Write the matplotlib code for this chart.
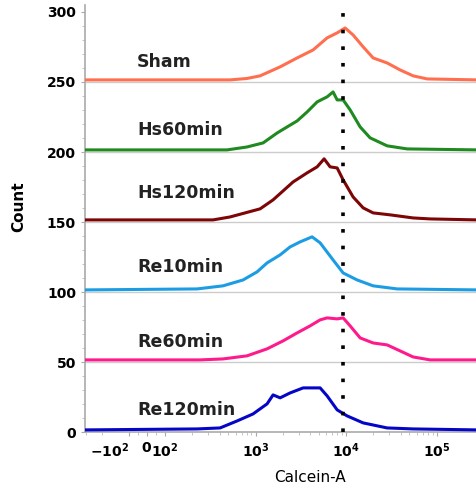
import numpy as np
import matplotlib.pyplot as plt
import matplotlib.transforms as mtransforms

# flow cytometry overlay, Calcein-A histograms stacked with an offset
samples = ['Sham', 'Hs60min', 'Hs120min', 'Re10min', 'Re60min', 'Re120min']
offsets = [250, 200, 150, 100, 50, 0]
colors = ['#ff6f4f', '#1f8a1f', '#7d0505', '#1c9de3', '#ff1a8c', '#0505c8']
label_y = [264, 216, 171, 118, 64, 16]
background = 1.5
marker_x = 9200

sham_x = [-300, 522, 800, 1122, 1866, 2877, 4315, 6166, 7962, 9750, 11940, 15420, 19860, 28380, 39540, 54950, 78520, 280000]
sham_y = [0, 0, 1.0, 2.9, 9.3, 15.7, 21.4, 30, 33.6, 37.1, 32.1, 23.6, 15.7, 12.1, 7.1, 2.9, 0.7, 0]

hs60_x = [-300, 484, 805, 1211, 1730, 2228, 2877, 3707, 4786, 6166, 7178, 7962, 9268, 11070, 14290, 18410, 28380, 47210, 280000]
hs60_y = [0, 0, 2.1, 5, 12.1, 16.4, 20.7, 27.1, 34.3, 37.9, 41.4, 35.7, 35.7, 28.6, 16.4, 8.6, 2.9, 0.7, 0]

hs120_x = [-300, 339, 522, 766, 1122, 1560, 2594, 3707, 4786, 5715, 6653, 7962, 9268, 11940, 15420, 19860, 30620, 54950, 84720, 280000]
hs120_y = [0, 0, 2.1, 5, 7.9, 14.3, 27.1, 33.6, 37.9, 43.6, 37.9, 37.1, 28.6, 16.4, 8.6, 5, 3.6, 1.4, 0.7, 0]

re10_x = [-300, 226, 437, 727, 1040, 1340, 1866, 2404, 3104, 4207, 5164, 7178, 9268, 13240, 19860, 36640, 280000]
re10_y = [0, 0.7, 2.9, 7.1, 12.9, 19.3, 25, 30.7, 34.3, 37.9, 33.6, 21.4, 12.1, 7.1, 2.9, 0.7, 0]

re60_x = [-300, 244, 437, 805, 1340, 2014, 2877, 4000, 5164, 6166, 7962, 9268, 11070, 14290, 19860, 28380, 39540, 54950, 84720, 280000]
re60_y = [0, 0, 0.7, 2.9, 7.9, 13.6, 19.3, 24.3, 28.6, 30, 29.3, 30, 24.3, 15.7, 12.1, 10.7, 6.4, 2.1, 0, 0]

re120_x = [-300, 226, 405, 625, 937, 1340, 1560, 1866, 2404, 3350, 4315, 5164, 6166, 7962, 10250, 15420, 28380, 54950, 280000]
re120_y = [0, 0.7, 1.4, 6.4, 11.4, 18.6, 25, 22.9, 26.4, 30, 30, 30, 24.3, 14.3, 10, 5, 1.4, 0.7, 0]

curves_x = [sham_x, hs60_x, hs120_x, re10_x, re60_x, re120_x]
curves_y = [sham_y, hs60_y, hs120_y, re10_y, re60_y, re120_y]

xtick_vals = [-100, 0, 100, 1000, 10000, 100000]
xtick_labels = [r'$\mathbf{-10^{2}}$', r'$\mathbf{0}$', r'$\mathbf{10^{2}}$',
                r'$\mathbf{10^{3}}$', r'$\mathbf{10^{4}}$', r'$\mathbf{10^{5}}$']
ytick_vals = [0, 50, 100, 150, 200, 250, 300]

fig = plt.figure(figsize=(4.77, 4.91), dpi=100)
ax = fig.add_axes([85/477, 59/491, 392/477, 427/491])
ax.set_xscale('symlog', linthresh=100, linscale=0.18)
ax.set_xlim(-305, 2.79e5)
ax.set_ylim(0, 305)

for off in offsets[:-1]:
    ax.axhline(off, color='#cccccc', lw=1, zorder=1)

for name, off, c, ly, xs, ys in zip(samples, offsets, colors, label_y, curves_x, curves_y):
    ax.plot(xs, np.array(ys) + off + background, color=c, lw=2.2, zorder=3,
            solid_joinstyle='round')
    ax.text(-55, ly, name, fontsize=12.5, fontweight='bold', ha='left', va='center', color='#222222')

ax.plot([marker_x, marker_x], [0, 303], color='black', lw=2.6, linestyle=(0, (1, 3.6)), zorder=4,
        clip_on=False)

ax.set_xticks(xtick_vals)
ax.set_xticklabels(xtick_labels)
# the -10^2 label sits left of its tick so it doesn't run into "0"
neg = ax.get_xticklabels()[0]
neg.set_ha('right')
neg.set_transform(neg.get_transform() + mtransforms.ScaledTranslation(4/72, 0, fig.dpi_scale_trans))
minor = [k * 10**e for e in range(2, 5) for k in range(2, 10)] + [-200, -300, -50, 50]
ax.set_xticks(minor, minor=True)
ax.set_yticks(ytick_vals)
ax.set_yticks(np.arange(0, 305, 10), minor=True)
ax.tick_params(axis='both', which='major', color='#aaaaaa', length=3, labelsize=10)
ax.tick_params(axis='both', which='minor', color='#bbbbbb', length=2)
for lab in ax.get_yticklabels():
    lab.set_fontweight('bold')

for s in ['top', 'right']:
    ax.spines[s].set_visible(False)
for s in ['left', 'bottom']:
    ax.spines[s].set_color('#aaaaaa')
    ax.spines[s].set_linewidth(1.2)

ax.set_ylabel('Count', fontsize=11, fontweight='bold')
ax.yaxis.set_label_coords(-0.15, 0.527)
ax.set_xlabel('Calcein-A', fontsize=11)
ax.xaxis.set_label_coords(0.574, -0.09)

fig.savefig('out.png', dpi=100)
